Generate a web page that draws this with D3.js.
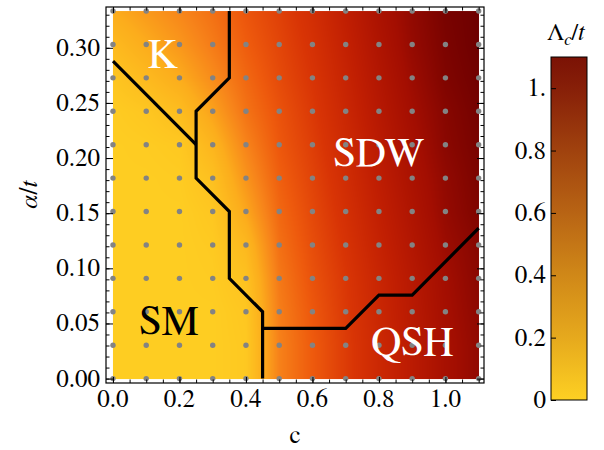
<!DOCTYPE html>
<html>
<head>
<meta charset="utf-8">
<script src="https://cdnjs.cloudflare.com/ajax/libs/d3/7.8.5/d3.min.js"></script>
</head>
<body style="margin:0">
<svg width="604" height="450"></svg>
<script>

  // grid of the calculation
  var cValues = [0, 0.1, 0.2, 0.3, 0.4, 0.5, 0.6, 0.7, 0.8, 0.9, 1.0, 1.1];
  var alphaValues = [0, 1/33, 2/33, 3/33, 4/33, 5/33, 6/33, 7/33, 8/33, 9/33, 10/33, 11/33];

  // Lambda_c / t, one row per alpha (bottom to top), one column per c
  var lambdaRows = [
    [0, 0, 0, 0, 0.03, 0.36, 0.50, 0.62, 0.73, 0.83, 0.93, 1.00],
    [0, 0, 0, 0, 0.03, 0.36, 0.50, 0.62, 0.73, 0.83, 0.93, 1.00],
    [0, 0, 0, 0, 0.04, 0.37, 0.51, 0.63, 0.74, 0.84, 0.94, 1.01],
    [0, 0, 0, 0.01, 0.07, 0.39, 0.53, 0.64, 0.75, 0.85, 0.95, 1.02],
    [0, 0, 0, 0.02, 0.13, 0.42, 0.55, 0.66, 0.77, 0.87, 0.97, 1.03],
    [0, 0, 0, 0.04, 0.22, 0.45, 0.57, 0.68, 0.79, 0.89, 0.99, 1.05],
    [0, 0, 0.01, 0.08, 0.29, 0.48, 0.59, 0.70, 0.81, 0.91, 1.00, 1.06],
    [0, 0.01, 0.03, 0.15, 0.35, 0.51, 0.61, 0.72, 0.83, 0.93, 1.02, 1.07],
    [0.01, 0.04, 0.10, 0.24, 0.41, 0.53, 0.63, 0.74, 0.85, 0.95, 1.03, 1.08],
    [0.05, 0.12, 0.20, 0.32, 0.45, 0.56, 0.65, 0.76, 0.87, 0.97, 1.05, 1.09],
    [0.12, 0.20, 0.28, 0.38, 0.49, 0.58, 0.67, 0.78, 0.89, 0.99, 1.06, 1.10],
    [0.20, 0.27, 0.34, 0.42, 0.52, 0.60, 0.69, 0.80, 0.91, 1.00, 1.07, 1.10]
  ];

  // phase boundaries [c, alpha]
  var boundaryK = [[0, 9.5/33], [0.25, 7/33]];
  var boundarySM = [[0.35, 11/33], [0.35, 9/33], [0.25, 8/33], [0.25, 6/33],
                    [0.35, 5/33], [0.35, 3/33], [0.45, 2/33], [0.45, 0]];
  var boundaryQSH = [[0.45, 1.5/33], [0.7, 1.5/33], [0.8, 2.5/33], [0.9, 2.5/33], [1.1, 4.5/33]];

  var phaseNames = ["K", "SDW", "SM", "QSH"];
  var phaseC = [0.15, 0.8, 0.168, 0.9];
  var phaseAlpha = [0.2826, 0.1928, 0.0404, 0.0214];

  var xTicks = [0, 0.2, 0.4, 0.6, 0.8, 1.0];
  var yTicks = [0, 0.05, 0.1, 0.15, 0.2, 0.25, 0.3];
  var legendTicks = [0, 0.2, 0.4, 0.6, 0.8, 1.0];
  var legendLabels = ["0", "0.2", "0.4", "0.6", "0.8", "1."];

  var heatStops = [0, 0.2, 0.35, 0.5, 0.65, 0.8, 0.95, 1.1];
  var heatColors = ["#fecd22", "#fcad1c", "#f7841a", "#ee5a0d", "#d83405", "#c01e02", "#a30e01", "#6e0000"];
  var legendStops = [0, 0.2, 0.4, 0.6, 0.8, 1.0, 1.1];
  var legendColors = ["#fdd023", "#e6a91d", "#d08818", "#b86414", "#a0420e", "#871f08", "#7b1205"];

  var FONT = "'Nimbus Roman', 'FreeSerif', 'Tinos', 'Liberation Serif', serif";

  var x = d3.scaleLinear().domain([-0.021, 1.116]).range([106, 484]);
  var y = d3.scaleLinear().domain([-0.004, 0.337]).range([383, 7]);
  var heat = d3.scaleLinear().domain(heatStops).range(heatColors).clamp(true);
  var legendColor = d3.scaleLinear().domain(legendStops).range(legendColors);
  var ly = d3.scaleLinear().domain([0, 1.1]).range([400, 57]);

  var svg = d3.select("svg");

  // density image, bilinear between grid points
  var x0 = x(cValues[0]), x1 = x(cValues[cValues.length - 1]);
  var y0 = y(alphaValues[alphaValues.length - 1]), y1 = y(alphaValues[0]);
  var w = Math.round(x1 - x0), h = Math.round(y1 - y0);
  var canvas = document.createElement("canvas");
  canvas.width = w; canvas.height = h;
  var ctx = canvas.getContext("2d");
  var img = ctx.createImageData(w, h);
  var ci = d3.scaleLinear().domain([x0, x1]).range([0, cValues.length - 1]);
  var ai = d3.scaleLinear().domain([y1, y0]).range([0, alphaValues.length - 1]);
  for (var py = 0; py < h; py++) {
    var fa = Math.max(0, Math.min(alphaValues.length - 1.0001, ai(y0 + py + 0.5)));
    var ja = Math.floor(fa), ta = fa - ja;
    for (var px = 0; px < w; px++) {
      var fc = Math.max(0, Math.min(cValues.length - 1.0001, ci(x0 + px + 0.5)));
      var jc = Math.floor(fc), tc = fc - jc;
      var v = (1 - ta) * ((1 - tc) * lambdaRows[ja][jc] + tc * lambdaRows[ja][jc + 1]) +
              ta * ((1 - tc) * lambdaRows[ja + 1][jc] + tc * lambdaRows[ja + 1][jc + 1]);
      var col = d3.rgb(heat(v));
      var k = (py * w + px) * 4;
      img.data[k] = col.r; img.data[k + 1] = col.g; img.data[k + 2] = col.b; img.data[k + 3] = 255;
    }
  }
  ctx.putImageData(img, 0, 0);

  svg.append("image")
    .attr("x", x0).attr("y", y0)
    .attr("width", w).attr("height", h)
    .attr("preserveAspectRatio", "none")
    .attr("href", canvas.toDataURL());

  // sample points
  var points = [];
  alphaValues.forEach(function(a) {
    cValues.forEach(function(c) { points.push([c, a]); });
  });
  svg.append("g")
    .selectAll("circle")
    .data(points)
    .enter().append("circle")
      .attr("cx", function(d) { return x(d[0]); })
      .attr("cy", function(d) { return y(d[1]); })
      .attr("r", 2.7)
      .attr("fill", "#838383");

  // boundaries
  var line = d3.line()
    .x(function(d) { return x(d[0]); })
    .y(function(d) { return y(d[1]); });
  [boundaryK, boundarySM, boundaryQSH].forEach(function(b) {
    svg.append("path")
      .attr("d", line(b))
      .attr("fill", "none")
      .attr("stroke", "#000")
      .attr("stroke-width", 3.2);
  });

  // frame with ticks on all sides, pointing inward
  var xMinor = d3.range(0, 1.1001, 0.05);
  var yMinor = d3.range(0, 0.3301, 0.01);

  function tidy(g) {
    g.select(".domain").remove();
    g.selectAll("line").attr("stroke", "#000");
  }

  svg.append("g").attr("transform", "translate(0,383)")
    .call(d3.axisBottom(x).tickValues(xMinor).tickSize(-3.5).tickFormat("")).call(tidy);
  svg.append("g").attr("transform", "translate(0,383)")
    .call(d3.axisBottom(x).tickValues(xTicks).tickSize(-6).tickFormat("")).call(tidy);
  svg.append("g").attr("transform", "translate(0,7)")
    .call(d3.axisTop(x).tickValues(xMinor).tickSize(-3.5).tickFormat("")).call(tidy);
  svg.append("g").attr("transform", "translate(0,7)")
    .call(d3.axisTop(x).tickValues(xTicks).tickSize(-6).tickFormat("")).call(tidy);
  svg.append("g").attr("transform", "translate(106,0)")
    .call(d3.axisLeft(y).tickValues(yMinor).tickSize(-3.5).tickFormat("")).call(tidy);
  svg.append("g").attr("transform", "translate(106,0)")
    .call(d3.axisLeft(y).tickValues(yTicks).tickSize(-7).tickFormat("")).call(tidy);
  svg.append("g").attr("transform", "translate(484,0)")
    .call(d3.axisRight(y).tickValues(yMinor).tickSize(-3.5).tickFormat("")).call(tidy);
  svg.append("g").attr("transform", "translate(484,0)")
    .call(d3.axisRight(y).tickValues(yTicks).tickSize(-7).tickFormat("")).call(tidy);

  svg.append("rect")
    .attr("x", 106).attr("y", 7)
    .attr("width", 378).attr("height", 376)
    .attr("fill", "none")
    .attr("stroke", "#000")
    .attr("stroke-width", 1.2);

  // text
  var fmtX = d3.format(".1f"), fmtY = d3.format(".2f");

  svg.selectAll("text.xlab")
    .data(xTicks)
    .enter().append("text")
      .attr("class", "xlab")
      .attr("x", function(d) { return x(d); })
      .attr("y", 407)
      .attr("text-anchor", "middle")
      .attr("font-size", 25)
      .style("font-family", FONT)
      .text(function(d) { return fmtX(d); });

  svg.selectAll("text.ylab")
    .data(yTicks)
    .enter().append("text")
      .attr("class", "ylab")
      .attr("x", 100)
      .attr("y", function(d) { return y(d) + 8; })
      .attr("text-anchor", "end")
      .attr("font-size", 25)
      .style("font-family", FONT)
      .text(function(d) { return fmtY(d); });

  svg.selectAll("text.phase")
    .data(phaseNames)
    .enter().append("text")
      .attr("class", "phase")
      .attr("x", function(d, i) { return x(phaseC[i]); })
      .attr("y", function(d, i) { return y(phaseAlpha[i]); })
      .attr("text-anchor", "middle")
      .attr("font-size", 42)
      .style("font-family", FONT)
      .attr("fill", function(d) { return d == "SM" ? "#000" : "#fff"; })
      .text(function(d) { return d; });

  svg.append("text")
    .attr("x", 295).attr("y", 443)
    .attr("text-anchor", "middle")
    .attr("font-size", 25)
    .style("font-family", FONT)
    .text("c");

  var yt = svg.append("text")
    .attr("transform", "translate(37,195) rotate(-90)")
    .attr("text-anchor", "middle")
    .attr("font-size", 25)
    .style("font-family", FONT)
    .style("font-style", "italic");
  yt.append("tspan").text("α");
  yt.append("tspan").style("font-style", "normal").text("/");
  yt.append("tspan").text("t");

  // colour legend
  var grad = svg.append("defs").append("linearGradient")
    .attr("id", "lgrad")
    .attr("x1", 0).attr("y1", 1).attr("x2", 0).attr("y2", 0);
  grad.selectAll("stop")
    .data(legendStops)
    .enter().append("stop")
      .attr("offset", function(d) { return d / 1.1; })
      .attr("stop-color", function(d) { return legendColor(d); });

  svg.append("rect")
    .attr("x", 551).attr("y", ly(1.1))
    .attr("width", 36).attr("height", ly(0) - ly(1.1))
    .attr("fill", "url(#lgrad)")
    .attr("stroke", "#000")
    .attr("stroke-width", 1);

  svg.append("g").attr("transform", "translate(551,0)")
    .call(d3.axisLeft(ly).tickValues(legendTicks).tickSize(-5).tickFormat("")).call(tidy);

  svg.selectAll("text.llab")
    .data(legendTicks)
    .enter().append("text")
      .attr("class", "llab")
      .attr("x", 546)
      .attr("y", function(d) { return ly(d) + 8; })
      .attr("text-anchor", "end")
      .attr("font-size", 25)
      .style("font-family", FONT)
      .text(function(d, i) { return legendLabels[i]; });

  var lt = svg.append("text")
    .attr("x", 547).attr("y", 40)
    .attr("font-size", 24)
    .style("font-family", FONT);
  lt.append("tspan").text("Λ");
  lt.append("tspan").style("font-style", "italic").attr("font-size", 17).attr("dy", 5).text("c");
  lt.append("tspan").attr("dy", -5).text("/");
  lt.append("tspan").style("font-style", "italic").text("t");

</script>
</body>
</html>
